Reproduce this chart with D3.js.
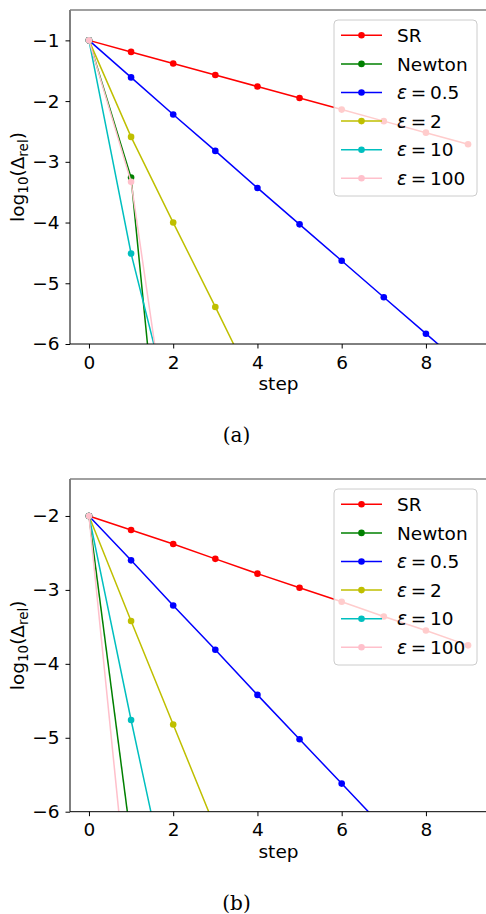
<!DOCTYPE html>
<html>
<head>
<meta charset="utf-8">
<script src="https://cdn.jsdelivr.net/npm/d3@7"></script>
<style>
    body { margin: 0; background: #fff; }
    svg text { font-family: "DejaVu Sans", sans-serif; }
</style>
</head>
<body>
<svg id="chart" width="486" height="914"></svg>
<script>

// Steps on the x axis
var steps = [0, 1, 2, 3, 4, 5, 6, 7, 8, 9];

// Series names, colours and tick labels
var seriesNames = ["SR", "Newton", "\u03b5 = 0.5", "\u03b5 = 2", "\u03b5 = 10", "\u03b5 = 100"];
var seriesColors = ["#ff0000", "#008000", "#0000ff", "#bfbf00", "#00bfbf", "#ffc0cb"];
var xTicks = [0, 2, 4, 6, 8];
var yTicksA = [-6, -5, -4, -3, -2, -1];
var yTicksB = [-6, -5, -4, -3, -2];

// Panel (a): log10 of relative error per step
var srA = [-1, -1.19, -1.38, -1.57, -1.76, -1.95, -2.14, -2.33, -2.52, -2.71];
var newtonA = [-1, -3.26, -10.3];
var eps05A = [-1, -1.61, -2.22, -2.82, -3.43, -4.03, -4.63, -5.23, -5.83, -6.43];
var eps2A = [-1, -2.59, -4.0, -5.39, -6.8];
var eps10A = [-1, -4.51, -7.27];
var eps100A = [-1, -3.33, -8.1];

// Panel (b)
var srB = [-2, -2.19, -2.38, -2.58, -2.78, -2.97, -3.16, -3.36, -3.55, -3.75];
var newtonB = [-2, -6.39];
var eps05B = [-2, -2.60, -3.21, -3.81, -4.42, -5.02, -5.62, -6.22];
var eps2B = [-2, -3.42, -4.82, -6.22];
var eps10B = [-2, -4.76, -7.4];
var eps100B = [-2, -7.65];

var fontSize = "18.5px";
var svg = d3.select("#chart");

// Draw one panel of the figure
function drawPanel(opts) {
    var x = d3.scaleLinear().domain([-0.45, 9.45]).range([70, 487]);
    var y = d3.scaleLinear().domain(opts.yDomain).range([opts.bottom, opts.top]);

    var g = svg.append("g");

    // clip the lines to the plot area
    g.append("clipPath")
        .attr("id", opts.id + "-clip")
        .append("rect")
        .attr("x", 70).attr("y", opts.top)
        .attr("width", 417).attr("height", opts.bottom - opts.top);

    var plot = g.append("g").attr("clip-path", "url(#" + opts.id + "-clip)");
    var line = d3.line()
        .x(function(d, i) { return x(steps[i]); })
        .y(function(d) { return y(d); });

    for (var s = 0; s < opts.series.length; s++) {
        var values = opts.series[s];
        plot.append("path")
            .attr("d", line(values))
            .attr("fill", "none")
            .attr("stroke", seriesColors[s])
            .attr("stroke-width", 1.5);
        plot.selectAll(".dot" + s)
            .data(values)
            .enter().append("circle")
            .attr("cx", function(d, i) { return x(steps[i]); })
            .attr("cy", function(d) { return y(d); })
            .attr("r", 3.3)
            .attr("fill", seriesColors[s]);
    }

    // axes
    var xAxis = g.append("g")
        .attr("transform", "translate(0," + opts.bottom + ")")
        .call(d3.axisBottom(x).tickValues(xTicks).tickFormat(d3.format("d"))
            .tickSize(4.5).tickPadding(7).tickSizeOuter(0));
    var yAxis = g.append("g")
        .attr("transform", "translate(70,0)")
        .call(d3.axisLeft(y).tickValues(opts.yTicks).tickFormat(d3.format("d"))
            .tickSize(4.5).tickPadding(6).tickSizeOuter(0));

    [xAxis, yAxis].forEach(function(a) {
        a.select(".domain").remove();
        a.selectAll("text").style("font-size", fontSize).attr("fill", "#000");
        a.selectAll("line").attr("stroke", "#000").attr("stroke-width", 1);
    });

    // spines
    g.append("line").attr("x1", 70).attr("x2", 70).attr("y1", opts.top).attr("y2", opts.bottom)
        .attr("stroke", "#000").attr("stroke-width", 1);
    g.append("line").attr("x1", 70).attr("x2", 487).attr("y1", opts.bottom).attr("y2", opts.bottom)
        .attr("stroke", "#000").attr("stroke-width", 1);
    g.append("line").attr("x1", 70).attr("x2", 487).attr("y1", opts.top).attr("y2", opts.top)
        .attr("stroke", "#808080").attr("stroke-width", 1.3);

    // axis labels
    g.append("text")
        .attr("x", 278.5).attr("y", opts.bottom + 46)
        .attr("text-anchor", "middle")
        .style("font-size", fontSize)
        .text("step");

    var ylab = g.append("text")
        .attr("transform", "translate(24," + ((opts.top + opts.bottom) / 2) + ") rotate(-90)")
        .attr("text-anchor", "middle")
        .style("font-size", fontSize);
    ylab.append("tspan").text("log");
    ylab.append("tspan").attr("dy", 4).style("font-size", "13.5px").text("10");
    ylab.append("tspan").attr("dy", -4).text("(\u0394");
    ylab.append("tspan").attr("dy", 4).style("font-size", "13.5px").text("rel");
    ylab.append("tspan").attr("dy", -4).text(")");

    // panel caption
    g.append("text")
        .attr("x", 236.5).attr("y", opts.captionY)
        .attr("text-anchor", "middle")
        .style("font-family", "'DejaVu Serif', serif")
        .style("font-size", "20px")
        .text(opts.caption);

    // legend
    var leg = g.append("g");
    leg.append("rect")
        .attr("x", 334).attr("y", opts.legendTop)
        .attr("width", 143).attr("height", 176)
        .attr("rx", 4)
        .attr("fill", "#fff").attr("fill-opacity", 0.8)
        .attr("stroke", "#cccccc").attr("stroke-width", 1);

    for (var k = 0; k < seriesNames.length; k++) {
        var ly = opts.legendTop + 15.3 + k * 28.6;
        leg.append("line")
            .attr("x1", 341).attr("x2", 382).attr("y1", ly).attr("y2", ly)
            .attr("stroke", seriesColors[k]).attr("stroke-width", 1.5);
        leg.append("circle")
            .attr("cx", 361.5).attr("cy", ly).attr("r", 3.3)
            .attr("fill", seriesColors[k]);
        var t = leg.append("text")
            .attr("x", 397).attr("y", ly + 6.6)
            .style("font-size", fontSize);
        if (k < 2) {
            t.text(seriesNames[k]);
        } else {
            // math style: thin spaces around the equals sign
            var parts = seriesNames[k].split(" = ");
            t.append("tspan").style("font-style", "italic").text(parts[0]);
            t.append("tspan").text("\u2009=\u2009" + parts[1]);
        }
    }
}

drawPanel({
    id: "a",
    series: [srA, newtonA, eps05A, eps2A, eps10A, eps100A],
    yDomain: [-6, -0.5],
    yTicks: yTicksA,
    top: 10,
    bottom: 344,
    legendTop: 20,
    caption: "(a)",
    captionY: 441.5
});

drawPanel({
    id: "b",
    series: [srB, newtonB, eps05B, eps2B, eps10B, eps100B],
    yDomain: [-6, -1.5],
    yTicks: yTicksB,
    top: 479,
    bottom: 811.7,
    legendTop: 489,
    caption: "(b)",
    captionY: 909.5
});

</script>
</body>
</html>
